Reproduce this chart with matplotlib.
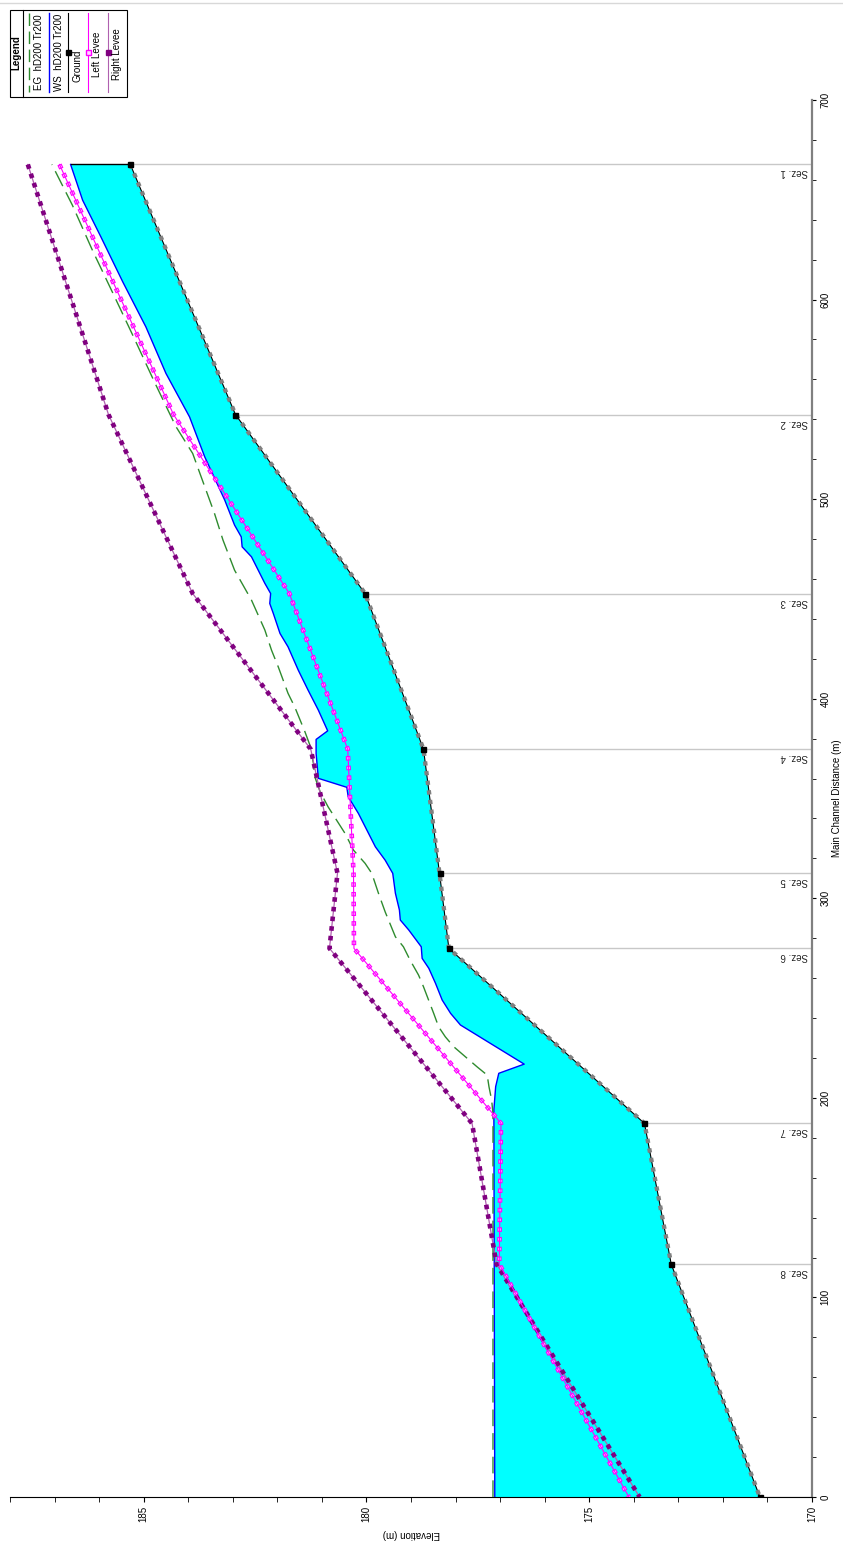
"""HEC-RAS style water surface profile, drawn rotated (distance up, elevation to the left)."""

import matplotlib

matplotlib.use("Agg")
import matplotlib.pyplot as plt
import numpy as np
from matplotlib.patches import Rectangle

plt.rcParams.update(
    {
        "font.family": ["Liberation Sans", "DejaVu Sans"],
        "font.size": 7,
        "lines.scale_dashes": False,
    }
)

# surveyed cross sections (main channel distance, m) from upstream to downstream
sec_names = ["Sez. 1", "Sez. 2", "Sez. 3", "Sez. 4", "Sez. 5", "Sez. 6", "Sez. 7", "Sez. 8", ""]
sec_dist = [667.7, 542.4, 452.7, 374.7, 312.5, 274.9, 187.2, 116.7, 0.0]
ground = [185.30, 182.94, 180.03, 178.72, 178.36, 178.15, 173.76, 173.16, 171.17]
left_levee = [186.89, 184.33, 181.73, 180.42, 180.29, 180.28, 176.98, 177.02, 174.11]
right_levee = [187.60, 185.79, 183.90, 181.25, 180.65, 180.83, 177.63, 177.08, 173.87]

# water surface, hD200 Tr200
ws_dist = [0, 194, 205.6, 212.3, 216.9, 236.5, 242.3, 249.0, 257.4, 264.9, 269.9, 275.7,
           284.1, 289.1, 294.1, 302.5, 312.5, 319.1, 325.8, 342.5, 350.9, 355.6, 360.1,
           372.6, 379.6, 383.9, 394.3, 404.3, 414.3, 426.0, 432.7, 442.7, 447.7, 452.7,
           457.8, 471.1, 476.1, 481.1, 487.0, 499.5, 521.2, 541.2, 563.0, 586.3, 608.9,
           631.4, 649.8, 667.7]
ws_elev = [177.12, 177.14, 177.10, 177.03, 176.46, 177.89, 178.11, 178.30, 178.45, 178.60,
           178.75, 178.77, 179.05, 179.24, 179.26, 179.35, 179.41, 179.58, 179.80, 180.18,
           180.41, 180.44, 181.08, 181.13, 181.13, 180.87, 181.08, 181.31, 181.53, 181.76,
           181.94, 182.09, 182.17, 182.15, 182.28, 182.58, 182.79, 182.81, 182.96, 183.18,
           183.63, 183.97, 184.50, 184.95, 185.47, 185.96, 186.37, 186.64]

# energy grade line, hD200 Tr200
eg_dist = [0, 192.2, 198.9, 205.6, 211.4, 215.6, 220.6, 225.6, 230.6, 235.6, 242.3, 255.7,
           261.5, 269.0, 275.7, 280.7, 293.2, 302.5, 312.5, 317.5, 324.1, 332.5, 345.8,
           353.4, 360.9, 367.6, 376.8, 383.4, 395.9, 402.7, 416.0, 424.3, 434.4, 449.4,
           464.4, 479.5, 492.8, 511.2, 522.9, 536.5, 558.8, 580.5, 602.7, 624.7, 647.3, 667.7]
eg_elev = [177.16, 177.16, 177.19, 177.25, 177.29, 177.52, 177.78, 178.04, 178.23, 178.38,
           178.49, 178.72, 178.83, 179.02, 179.17, 179.35, 179.58, 179.73, 179.88, 180.03,
           180.29, 180.48, 180.86, 181.04, 181.16, 181.19, 181.27, 181.38, 181.61, 181.76,
           181.98, 182.13, 182.28, 182.58, 182.96, 183.22, 183.41, 183.71, 183.90, 184.28,
           184.76, 185.21, 185.68, 186.15, 186.60, 187.06]

W, H = 843, 1547
fig = plt.figure(figsize=(W / 100, H / 100), dpi=100)
ax = fig.add_axes([10 / W, 50 / H, 802 / W, 1397 / H])
ax.set_xlim(188, 170)
ax.set_ylim(0, 700)

# section lines and labels
ax.hlines(sec_dist, ground, 170, color="#c8c8c8", lw=1, zorder=1)
for name, d in zip(sec_names, sec_dist):
    if name:
        ax.text(170.1, d - 1.5, name, rotation=180, ha="right", va="top",
                fontsize=7, color="#222222", zorder=2)

# flow area between water surface and ground
ax.fill(np.r_[ws_elev, ground], np.r_[ws_dist, sec_dist], color="#00ffff", lw=0, zorder=2)
ax.plot(ws_elev, ws_dist, color="#0000ff", lw=1, zorder=3)
ax.plot([ws_elev[-1], ground[0]], [ws_dist[-1], sec_dist[0]], color="black", lw=1, zorder=3)
ax.plot(eg_elev, eg_dist, color="#2e8b2e", lw=1, dashes=(12, 5), zorder=4)

# ground with interpolated-section squares (square dashes) and surveyed sections
ax.plot(ground, sec_dist, color="black", lw=0.8, zorder=5)
ax.plot(ground, sec_dist, color="#808080", lw=3.1, dashes=(3.1, 3.9),
        solid_capstyle="butt", dash_capstyle="butt", zorder=6)
ax.plot(ground, sec_dist, ls="none", marker="s", ms=3.6, color="black", zorder=7)

# left levee: open magenta squares
ax.plot(left_levee, sec_dist, color="#ff00ff", lw=3.3, dashes=(3.3, 3.7),
        dash_capstyle="butt", zorder=5)
ax.plot(left_levee, sec_dist, color="#ffd6ff", lw=1.7, dashes=(0, 0.8, 1.7, 4.5),
        dash_capstyle="butt", zorder=6)
ax.plot(left_levee, sec_dist, color="#ff00ff", lw=0.8, zorder=7)

# right levee: filled purple squares
ax.plot(right_levee, sec_dist, color="#b060b0", lw=0.9, zorder=5)
ax.plot(right_levee, sec_dist, color="#800080", lw=3.3, dashes=(3.3, 3.7),
        dash_capstyle="butt", zorder=6)

# axes styling
for side in ("top", "left"):
    ax.spines[side].set_visible(False)
ax.spines["bottom"].set_color("black")
ax.spines["right"].set_color("#808080")
ax.spines["right"].set_linewidth(1.6)
ax.yaxis.tick_right()
ax.yaxis.set_label_position("right")
ax.set_xticks([170, 175, 180, 185])
ax.set_xticks(np.arange(171, 189), minor=True)
ax.set_yticks(np.arange(0, 701, 100))
ax.set_yticks(np.arange(0, 701, 20), minor=True)
ax.tick_params(axis="x", which="both", direction="out", labelrotation=90, labelsize=7,
               length=3.5, color="black", pad=3)
ax.tick_params(axis="y", which="both", direction="out", labelrotation=90, labelsize=7,
               length=3, color="black", pad=3)
for lab in ax.get_yticklabels():
    lab.set_va("center")
ax.set_xlabel("Elevation (m)", rotation=180, fontsize=7, labelpad=5)
ax.set_ylabel("Main Channel Distance (m)", rotation=90, fontsize=7, labelpad=1)

# legend (pixel coordinates overlay)
lg = fig.add_axes([0, 0, 1, 1])
lg.set_xlim(0, W)
lg.set_ylim(H, 0)
lg.axis("off")
lg.plot([0, W], [3, 3], color="#d8d8d8", lw=1)
lg.add_patch(Rectangle((10, 10), 117, 87, fill=False, ec="black", lw=0.8))
lg.plot([23.3, 23.3], [10, 97], color="black", lw=0.8)
lg.text(16.5, 53, "Legend", rotation=90, ha="center", va="center", fontsize=7,
        fontweight="bold")
lg.plot([29.3, 29.3], [13, 92], color="#2e8b2e", lw=1, dashes=(9, 4))
lg.text(39.5, 52, "EG  hD200 Tr200", rotation=90, ha="center", va="center", fontsize=7)
lg.plot([49.3, 49.3], [13, 92], color="#0000ff", lw=1)
lg.text(59.5, 52, "WS  hD200 Tr200", rotation=90, ha="center", va="center", fontsize=7)
lg.plot([68.3, 68.3], [13, 92], color="black", lw=0.8)
lg.plot([68.3], [52.3], marker="s", ms=3.6, color="black")
lg.text(77.5, 66, "Ground", rotation=90, ha="center", va="center", fontsize=7)
lg.plot([87.7, 87.7], [13, 92], color="#ff00ff", lw=0.8)
lg.plot([87.7], [52.3], marker="s", ms=3.6, mfc="#ffd6ff", mec="#ff00ff")
lg.text(97.3, 54, "Left Levee", rotation=90, ha="center", va="center", fontsize=7)
lg.plot([107.7, 107.7], [13, 92], color="#b060b0", lw=0.8)
lg.plot([107.7], [52.3], marker="s", ms=3.6, color="#800080")
lg.text(116.7, 54, "Right Levee", rotation=90, ha="center", va="center", fontsize=7)

fig.savefig("out.png", dpi=100)
